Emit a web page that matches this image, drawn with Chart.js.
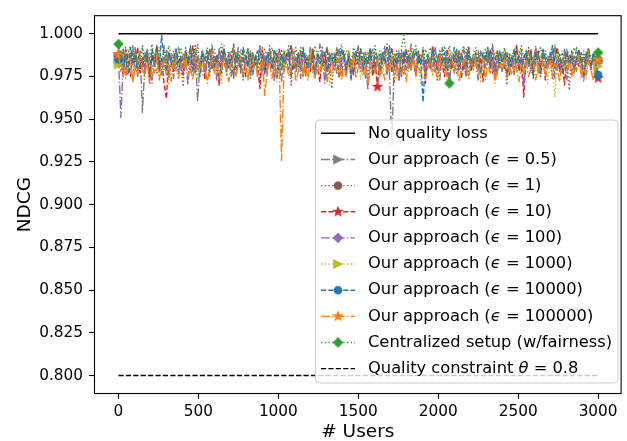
<!DOCTYPE html>
<html>
<head>
<meta charset="utf-8">
<script src="https://cdn.jsdelivr.net/npm/chart.js@4.4.0/dist/chart.umd.min.js"></script>
<style>
html, body { margin: 0; padding: 0; background: #fff; }
#wrap { width: 627px; height: 441px; }
</style>
</head>
<body>
<div id="wrap"><canvas id="ndcgChart" width="627" height="441"></canvas></div>
<script>
// number of users (x positions of the sampled points)
var users = [
    0,15,30,45,60,75,90,105,120,135,150,165,180,195,210,225,240,255,270,285,
    300,315,330,345,360,375,390,405,420,435,450,465,480,495,510,525,540,555,570,585,
    600,615,630,645,660,675,690,705,720,735,750,765,780,795,810,825,840,855,870,885,
    900,915,930,945,960,975,990,1005,1020,1035,1050,1065,1080,1095,1110,1125,1140,1155,1170,1185,
    1200,1215,1230,1245,1260,1275,1290,1305,1320,1335,1350,1365,1380,1395,1410,1425,1440,1455,1470,1485,
    1500,1515,1530,1545,1560,1575,1590,1605,1620,1635,1650,1665,1680,1695,1710,1725,1740,1755,1770,1785,
    1800,1815,1830,1845,1860,1875,1890,1905,1920,1935,1950,1965,1980,1995,2010,2025,2040,2055,2070,2085,
    2100,2115,2130,2145,2160,2175,2190,2205,2220,2235,2250,2265,2280,2295,2310,2325,2340,2355,2370,2385,
    2400,2415,2430,2445,2460,2475,2490,2505,2520,2535,2550,2565,2580,2595,2610,2625,2640,2655,2670,2685,
    2700,2715,2730,2745,2760,2775,2790,2805,2820,2835,2850,2865,2880,2895,2910,2925,2940,2955,2970,2985,
    3000];

var xTicks = [0, 500, 1000, 1500, 2000, 2500, 3000];
var yTicks = [0.800, 0.825, 0.850, 0.875, 0.900, 0.925, 0.950, 0.975, 1.000];

// reference lines
var refX = [0, 3000];
var noLoss = [1.0, 1.0];
var constraint = [0.8, 0.8];

// NDCG per epsilon
var eps05 = [
    0.986,0.979,0.991,0.976,0.988,0.983,0.993,0.978,0.985,0.990,
    0.954,0.982,0.989,0.975,0.987,0.981,0.994,0.977,0.986,0.980,
    0.991,0.974,0.988,0.983,0.979,0.992,0.985,0.976,0.989,0.982,
    0.987,0.978,0.993,0.960,0.984,0.990,0.977,0.986,0.981,0.994,
    0.979,0.988,0.973,0.985,0.991,0.980,0.987,0.975,0.989,0.983,
    0.992,0.977,0.986,0.981,0.990,0.974,0.988,0.984,0.979,0.993,
    0.982,0.987,0.976,0.991,0.985,0.978,0.989,0.983,0.972,0.990,
    0.984,0.979,0.993,0.986,0.977,0.988,0.982,0.991,0.975,0.987,
    0.981,0.990,0.978,0.985,0.994,0.980,0.987,0.973,0.989,0.984,
    0.979,0.992,0.986,0.981,0.988,0.976,0.990,0.983,0.978,0.987,
    0.993,0.982,0.985,0.974,0.989,0.984,0.979,0.991,0.986,0.977,
    0.988,0.983,0.992,0.978,0.935,0.986,0.981,0.990,0.976,0.985,
    0.989,0.980,0.994,0.984,0.977,0.987,0.982,0.991,0.975,0.988,
    0.983,0.979,0.990,0.986,0.973,0.992,0.985,0.980,0.988,0.982,
    0.977,0.991,0.984,0.989,0.979,0.986,0.993,0.978,0.985,0.981,
    0.990,0.975,0.987,0.983,0.992,0.980,0.986,0.974,0.989,0.984,
    0.978,0.991,0.985,0.981,0.988,0.976,0.993,0.983,0.987,0.979,
    0.986,0.990,0.977,0.984,0.989,0.982,0.975,0.991,0.985,0.980,
    0.988,0.983,0.994,0.978,0.986,0.981,0.990,0.973,0.987,0.984,
    0.979,0.992,0.985,0.980,0.988,0.976,0.991,0.983,0.986,0.978,
    0.983];
var eps1 = [
    0.983,0.989,0.975,0.992,0.980,0.987,0.972,0.990,0.984,0.978,
    0.993,0.981,0.986,0.971,0.989,0.983,0.977,0.991,0.985,0.979,
    0.988,0.974,0.984,0.990,0.978,0.986,0.982,0.969,0.992,0.983,
    0.977,0.988,0.982,0.994,0.979,0.985,0.980,0.989,0.975,0.991,
    0.984,0.978,0.987,0.982,0.993,0.976,0.986,0.981,0.990,0.977,
    0.985,0.991,0.973,0.987,0.983,0.979,0.989,0.982,0.986,0.971,
    0.990,0.984,0.979,0.993,0.981,0.987,0.975,0.985,0.991,0.980,
    0.983,0.988,0.970,0.986,0.992,0.979,0.984,0.989,0.976,0.985,
    0.981,0.990,0.974,0.987,0.983,0.993,0.978,0.986,0.982,0.968,
    0.989,0.984,0.979,0.991,0.985,0.976,0.988,0.982,0.987,0.980,
    0.992,0.978,0.985,0.990,0.973,0.986,0.981,0.989,0.984,0.977,
    0.987,0.982,0.994,0.979,0.985,0.971,0.990,0.983,0.988,0.976,
    0.984,0.991,0.980,0.986,0.975,0.989,0.983,0.992,0.978,0.985,
    0.980,0.988,0.983,0.972,0.990,0.985,0.979,0.987,0.993,0.981,
    0.986,0.977,0.989,0.984,0.980,0.991,0.975,0.986,0.982,0.988,
    0.974,0.990,0.985,0.979,0.987,0.983,0.993,0.976,0.984,0.989,
    0.981,0.986,0.970,0.988,0.984,0.979,0.991,0.985,0.977,0.987,
    0.983,0.992,0.978,0.986,0.981,0.989,0.975,0.984,0.990,0.980,
    0.987,0.973,0.985,0.991,0.982,0.978,0.988,0.984,0.967,0.990,
    0.985,0.980,0.989,0.976,0.987,0.982,0.992,0.979,0.986,0.981,
    0.985];
var eps10 = [
    0.988,0.981,0.978,0.991,0.985,0.975,0.989,0.983,0.992,0.977,
    0.986,0.980,0.990,0.974,0.987,0.982,0.993,0.979,0.985,0.971,
    0.962,0.989,0.984,0.978,0.991,0.982,0.987,0.976,0.990,0.984,
    0.979,0.993,0.977,0.986,0.982,0.989,0.973,0.985,0.991,0.979,
    0.987,0.983,0.970,0.990,0.984,0.978,0.988,0.981,0.994,0.976,
    0.986,0.982,0.989,0.975,0.984,0.990,0.979,0.986,0.981,0.968,
    0.992,0.976,0.985,0.989,0.980,0.987,0.973,0.991,0.983,0.978,
    0.988,0.984,0.993,0.979,0.986,0.981,0.990,0.975,0.987,0.982,
    0.978,0.991,0.985,0.980,0.972,0.988,0.983,0.992,0.977,0.986,
    0.981,0.989,0.974,0.985,0.990,0.979,0.987,0.983,0.976,0.988,
    0.984,0.991,0.978,0.986,0.982,0.989,0.975,0.984,0.969,0.987,
    0.983,0.990,0.977,0.985,0.992,0.980,0.986,0.973,0.988,0.982,
    0.991,0.979,0.987,0.984,0.976,0.990,0.983,0.988,0.971,0.986,
    0.981,0.993,0.978,0.985,0.989,0.982,0.975,0.991,0.984,0.979,
    0.987,0.983,0.990,0.974,0.986,0.981,0.992,0.978,0.985,0.989,
    0.980,0.986,0.972,0.988,0.983,0.991,0.977,0.984,0.990,0.981,
    0.985,0.979,0.989,0.976,0.987,0.982,0.993,0.978,0.986,0.963,
    0.988,0.983,0.991,0.977,0.985,0.990,0.980,0.987,0.973,0.984,
    0.989,0.981,0.986,0.992,0.978,0.985,0.970,0.988,0.983,0.990,
    0.977,0.986,0.981,0.989,0.975,0.984,0.991,0.979,0.987,0.982,
    0.974];
var eps100 = [
    0.987,0.951,0.984,0.990,0.977,0.986,0.981,0.992,0.975,0.988,
    0.983,0.978,0.991,0.985,0.971,0.989,0.982,0.986,0.976,0.993,
    0.980,0.987,0.983,0.974,0.990,0.984,0.979,0.988,0.982,0.970,
    0.991,0.985,0.977,0.987,0.983,0.990,0.976,0.984,0.989,0.981,
    0.986,0.973,0.992,0.983,0.988,0.979,0.985,0.990,0.977,0.984,
    0.989,0.982,0.975,0.986,0.991,0.978,0.984,0.988,0.983,0.993,
    0.976,0.987,0.981,0.989,0.985,0.972,0.990,0.984,0.979,0.987,
    0.982,0.991,0.977,0.986,0.983,0.989,0.974,0.988,0.984,0.980,
    0.992,0.985,0.978,0.987,0.982,0.990,0.971,0.986,0.983,0.989,
    0.979,0.985,0.991,0.976,0.987,0.982,0.988,0.973,0.986,0.990,
    0.984,0.978,0.989,0.983,0.967,0.986,0.991,0.978,0.984,0.988,
    0.983,0.993,0.976,0.987,0.981,0.989,0.985,0.972,0.990,0.984,
    0.979,0.987,0.982,0.991,0.977,0.986,0.983,0.989,0.975,0.988,
    0.984,0.980,0.992,0.985,0.978,0.987,0.982,0.990,0.971,0.986,
    0.983,0.989,0.979,0.985,0.991,0.976,0.987,0.982,0.988,0.984,
    0.973,0.990,0.985,0.981,0.988,0.983,0.992,0.977,0.986,0.980,
    0.989,0.984,0.975,0.987,0.982,0.990,0.978,0.985,0.991,0.969,
    0.986,0.981,0.988,0.983,0.993,0.977,0.985,0.989,0.980,0.987,
    0.982,0.990,0.974,0.986,0.984,0.979,0.991,0.983,0.988,0.976,
    0.987,0.982,0.989,0.985,0.972,0.990,0.984,0.980,0.988,0.983,
    0.984];
var eps1000 = [
    0.982,0.988,0.975,0.985,0.991,0.979,0.972,0.987,0.983,0.990,
    0.977,0.985,0.981,0.989,0.974,0.986,0.982,0.992,0.978,0.984,
    0.988,0.970,0.985,0.980,0.990,0.983,0.976,0.987,0.982,0.989,
    0.978,0.985,0.991,0.974,0.986,0.981,0.988,0.983,0.977,0.990,
    0.984,0.979,0.987,0.971,0.989,0.983,0.986,0.980,0.992,0.976,
    0.985,0.981,0.988,0.984,0.975,0.990,0.982,0.987,0.979,0.985,
    0.991,0.977,0.984,0.988,0.982,0.986,0.972,0.989,0.983,0.980,
    0.987,0.984,0.978,0.991,0.985,0.981,0.988,0.974,0.986,0.982,
    0.989,0.977,0.985,0.990,0.983,0.979,0.987,0.984,0.970,0.988,
    0.982,0.986,0.976,0.989,0.984,0.980,0.991,0.978,0.985,0.983,
    0.988,0.973,0.986,0.982,0.990,0.977,0.984,0.989,0.981,0.987,
    0.976,0.985,0.991,0.983,0.979,0.988,0.974,0.986,0.982,0.990,
    0.984,0.978,0.987,0.992,0.980,0.985,0.971,0.989,0.983,0.986,
    0.979,0.990,0.984,0.976,0.988,0.982,0.986,0.973,0.991,0.985,
    0.981,0.987,0.978,0.989,0.984,0.975,0.990,0.983,0.987,0.980,
    0.986,0.972,0.988,0.983,0.991,0.979,0.985,0.989,0.976,0.984,
    0.990,0.982,0.986,0.977,0.988,0.984,0.980,0.991,0.974,0.986,
    0.983,0.989,0.979,0.985,0.990,0.976,0.987,0.982,0.988,0.971,
    0.985,0.980,0.963,0.987,0.983,0.990,0.978,0.986,0.982,0.989,
    0.977,0.984,0.988,0.981,0.986,0.973,0.990,0.983,0.987,0.979,
    0.981];
var eps10000 = [
    0.985,0.990,0.980,0.987,0.976,0.992,0.983,0.988,0.978,0.986,
    0.981,0.989,0.984,0.977,0.991,0.983,0.987,0.980,0.999,0.985,
    0.978,0.989,0.982,0.986,0.991,0.977,0.985,0.980,0.988,0.983,
    0.993,0.979,0.986,0.982,0.975,0.989,0.984,0.990,0.978,0.986,
    0.981,0.988,0.983,0.977,0.991,0.985,0.980,0.987,0.974,0.989,
    0.984,0.979,0.992,0.986,0.981,0.988,0.976,0.985,0.990,0.982,
    0.987,0.978,0.989,0.984,0.980,0.991,0.985,0.977,0.988,0.983,
    0.986,0.990,0.975,0.985,0.981,0.988,0.979,0.992,0.984,0.980,
    0.987,0.983,0.975,0.989,0.985,0.981,0.990,0.978,0.986,0.984,
    0.988,0.977,0.983,0.991,0.986,0.980,0.987,0.974,0.989,0.985,
    0.982,0.990,0.978,0.986,0.983,0.992,0.979,0.987,0.984,0.976,
    0.989,0.985,0.981,0.993,0.977,0.986,0.982,0.988,0.975,0.990,
    0.983,0.987,0.979,0.985,0.990,0.982,0.986,0.960,0.984,0.988,
    0.980,0.991,0.985,0.978,0.987,0.983,0.989,0.976,0.986,0.981,
    0.992,0.984,0.979,0.988,0.983,0.975,0.990,0.985,0.981,0.987,
    0.983,0.978,0.989,0.985,0.992,0.980,0.986,0.982,0.977,0.990,
    0.984,0.988,0.976,0.986,0.981,0.991,0.983,0.987,0.979,0.985,
    0.990,0.982,0.987,0.974,0.989,0.984,0.978,0.991,0.985,0.981,
    0.986,0.993,0.980,0.985,0.988,0.977,0.984,0.990,0.982,0.987,
    0.979,0.985,0.991,0.983,0.976,0.988,0.984,0.981,0.989,0.983,
    0.976];
var eps100000 = [
    0.988,0.978,0.983,0.974,0.980,0.985,0.972,0.981,0.976,0.986,
    0.979,0.975,0.984,0.971,0.982,0.977,0.987,0.973,0.980,0.984,
    0.976,0.982,0.972,0.985,0.979,0.974,0.983,0.978,0.987,0.975,
    0.981,0.973,0.986,0.979,0.984,0.976,0.982,0.971,0.980,0.985,
    0.977,0.983,0.974,0.980,0.986,0.978,0.972,0.984,0.979,0.975,
    0.982,0.987,0.976,0.981,0.973,0.985,0.979,0.983,0.975,0.980,
    0.986,0.964,0.978,0.984,0.974,0.981,0.977,0.985,0.926,0.979,
    0.983,0.975,0.980,0.986,0.972,0.978,0.984,0.976,0.982,0.973,
    0.987,0.979,0.974,0.983,0.977,0.985,0.981,0.972,0.980,0.976,
    0.984,0.978,0.986,0.973,0.981,0.975,0.983,0.979,0.988,0.974,
    0.980,0.985,0.976,0.982,0.971,0.979,0.984,0.977,0.986,0.975,
    0.981,0.973,0.983,0.978,0.987,0.974,0.980,0.985,0.976,0.982,
    0.972,0.984,0.979,0.986,0.975,0.981,0.977,0.983,0.973,0.980,
    0.985,0.976,0.982,0.974,0.988,0.979,0.983,0.975,0.981,0.986,
    0.977,0.983,0.972,0.980,0.985,0.978,0.974,0.984,0.979,0.987,
    0.975,0.981,0.986,0.973,0.982,0.977,0.984,0.971,0.980,0.983,
    0.978,0.986,0.974,0.981,0.976,0.985,0.979,0.972,0.983,0.977,
    0.984,0.975,0.980,0.987,0.973,0.982,0.978,0.985,0.976,0.981,
    0.986,0.974,0.983,0.979,0.972,0.984,0.980,0.977,0.985,0.975,
    0.982,0.978,0.987,0.974,0.981,0.976,0.984,0.979,0.973,0.983,
    0.985];
var centralized = [
    0.994,0.986,0.991,0.983,0.989,0.993,0.985,0.990,0.982,0.988,
    0.992,0.984,0.989,0.986,0.994,0.981,0.990,0.987,0.983,0.991,
    0.985,0.993,0.988,0.982,0.990,0.986,0.992,0.984,0.989,0.983,
    0.991,0.987,0.993,0.985,0.981,0.990,0.986,0.992,0.983,0.988,
    0.991,0.984,0.989,0.994,0.986,0.982,0.990,0.987,0.993,0.985,
    0.988,0.983,0.991,0.986,0.992,0.984,0.989,0.981,0.990,0.987,
    0.985,0.991,0.987,0.983,0.992,0.986,0.989,0.984,0.980,0.990,
    0.988,0.993,0.985,0.990,0.982,0.987,0.992,0.986,0.989,0.983,
    0.991,0.985,0.993,0.987,0.982,0.990,0.986,0.992,0.984,0.989,
    0.983,0.991,0.987,0.994,0.985,0.990,0.986,0.982,0.992,0.988,
    0.986,0.992,0.984,0.989,0.983,0.991,0.987,0.993,0.985,0.990,
    0.982,0.988,0.992,0.986,0.990,0.984,0.989,0.983,0.991,0.999,
    0.987,0.983,0.990,0.986,0.993,0.984,0.988,0.982,0.991,0.986,
    0.992,0.985,0.989,0.983,0.990,0.987,0.993,0.984,0.971,0.989,
    0.986,0.991,0.983,0.988,0.993,0.985,0.990,0.982,0.987,0.992,
    0.984,0.989,0.986,0.991,0.983,0.988,0.994,0.985,0.990,0.982,
    0.987,0.992,0.984,0.989,0.985,0.991,0.983,0.988,0.993,0.986,
    0.990,0.984,0.988,0.982,0.991,0.986,0.992,0.985,0.989,0.983,
    0.988,0.993,0.986,0.990,0.984,0.989,0.982,0.991,0.987,0.985,
    0.992,0.986,0.989,0.983,0.990,0.985,0.991,0.987,0.984,0.990,
    0.989];

var epsLabels = ['0.5', '1', '10', '100', '1000', '10000', '100000'];

//matplotlib line styles (scaled with line width 1.4)
var LW = 1.4;
var DASH = [5.2, 2.2];
var DOT = [1.4, 2.3];
var DASHDOT = [8.9, 2.2, 1.4, 2.2];

/**
 * small canvas marker like matplotlib's
 */
function makeMarker(shape, color) {
    var c = document.createElement('canvas');
    c.width = 14;
    c.height = 14;
    var g = c.getContext('2d');
    g.translate(7, 7);
    g.fillStyle = color;
    g.strokeStyle = color;
    g.lineWidth = 1.1;
    g.beginPath();
    if (shape === 'circle') {
        g.arc(0, 0, 3.8, 0, Math.PI * 2);
    } else if (shape === 'tri') {
        g.moveTo(4.2, 0); g.lineTo(-4.2, -4.2); g.lineTo(-4.2, 4.2); g.closePath();
    } else if (shape === 'diamond') {
        g.moveTo(0, -4.5); g.lineTo(4.5, 0); g.lineTo(0, 4.5); g.lineTo(-4.5, 0); g.closePath();
    } else if (shape === 'star') {
        for (var k = 0; k < 10; k++) {
            var r = k % 2 === 0 ? 4.6 : 1.8;
            var a = -Math.PI / 2 + k * Math.PI / 5;
            g.lineTo(r * Math.cos(a), r * Math.sin(a));
        }
        g.closePath();
    }
    g.fill();
    g.stroke();
    return c;
}

function pts(xs, ys) {
    return xs.map(function (x, i) { return {x: x, y: ys[i]}; });
}

// line setups, in legend order
var series = [
    {vals: eps05, color: '#7f7f7f', dash: DASHDOT, marker: 'tri', marks: [0, 200], order: 7},
    {vals: eps1, color: '#8c564b', dash: DOT, marker: 'circle', marks: [0, 200], order: 6},
    {vals: eps10, color: '#d62728', dash: DASH, marker: 'star', marks: [0, 108, 200], order: 5},
    {vals: eps100, color: '#9467bd', dash: DASHDOT, marker: 'diamond', marks: [0, 200], order: 4},
    {vals: eps1000, color: '#bcbd22', dash: DOT, marker: 'tri', marks: [0, 200], order: 3},
    {vals: eps10000, color: '#1f77b4', dash: DASH, marker: 'circle', marks: [0, 200], order: 2},
    {vals: eps100000, color: '#ff7f0e', dash: DASHDOT, marker: 'star', marks: [0, 200], order: 1},
    {vals: centralized, color: '#2ca02c', dash: DOT, marker: 'diamond', marks: [0, 138, 200], order: 0}
];
series.forEach(function (s) { s.img = makeMarker(s.marker, s.color); });

var datasets = [{
    data: pts(refX, noLoss), borderColor: '#000', borderWidth: 1.6, pointRadius: 0, order: 8
}];
series.forEach(function (s) {
    datasets.push({
        data: pts(users, s.vals),
        borderColor: s.color,
        borderWidth: LW,
        borderDash: s.dash,
        borderJoinStyle: 'round',
        pointStyle: s.img,
        pointRadius: function (ctx) { return s.marks.indexOf(ctx.dataIndex) >= 0 ? 4 : 0; },
        order: s.order
    });
});
datasets.push({
    data: pts(refX, constraint), borderColor: '#000', borderWidth: LW, borderDash: DASH, pointRadius: 0, order: 9
});

// legend rows
var legendRows = [{text: ['No quality loss'], color: '#000', dash: [], img: null, lw: 1.6}];
series.forEach(function (s, i) {
    if (i < epsLabels.length) {
        legendRows.push({text: ['Our approach (', 'ϵ', ' = ' + epsLabels[i] + ')'], color: s.color, dash: s.dash, img: s.img});
    } else {
        legendRows.push({text: ['Centralized setup (w/fairness)'], color: s.color, dash: s.dash, img: s.img});
    }
});
legendRows.push({text: ['Quality constraint ', 'θ', ' = 0.8'], color: '#000', dash: DASH, img: null});

var framePlugin = {
    id: 'frameAndLegend',
    afterDatasetsDraw: function (chart) {
        var ctx = chart.ctx, a = chart.chartArea;
        ctx.save();
        //axes box
        ctx.strokeStyle = '#000';
        ctx.lineWidth = 1.1;
        ctx.strokeRect(a.left + 0.5, a.top + 0.5, a.right - a.left - 1, a.bottom - a.top - 1);

        //legend box
        var bx = 315.5, by = 120, bw = 302.5, bh = 263;
        ctx.beginPath();
        ctx.roundRect(bx, by, bw, bh, 4);
        ctx.fillStyle = 'rgba(255,255,255,0.8)';
        ctx.fill();
        ctx.strokeStyle = '#cccccc';
        ctx.lineWidth = 1;
        ctx.stroke();

        ctx.textBaseline = 'middle';
        ctx.textAlign = 'left';
        legendRows.forEach(function (row, i) {
            var y = 133.3 + i * 26.15;
            ctx.beginPath();
            ctx.setLineDash(row.dash);
            ctx.lineWidth = row.lw || LW;
            ctx.strokeStyle = row.color;
            ctx.moveTo(321, y);
            ctx.lineTo(355, y);
            ctx.stroke();
            ctx.setLineDash([]);
            if (row.img) {
                ctx.drawImage(row.img, 338 - 7, y - 7);
            }
            var tx = 368;
            ctx.fillStyle = '#000';
            row.text.forEach(function (part, k) {
                ctx.font = (k === 1 ? 'italic ' : '') + '16.3px "DejaVu Sans"';
                ctx.fillText(part, tx, y);
                tx += ctx.measureText(part).width;
            });
        });
        ctx.restore();
    }
};

Chart.defaults.font.family = '"DejaVu Sans"';
Chart.defaults.color = '#000';

var chart = new Chart(document.getElementById('ndcgChart').getContext('2d'), {
    type: 'line',
    data: {datasets: datasets},
    options: {
        responsive: false,
        animation: false,
        events: [],
        layout: {padding: {top: 13, right: 0, left: 0, bottom: 0}},
        plugins: {legend: {display: false}, tooltip: {enabled: false}},
        scales: {
            x: {
                type: 'linear',
                min: -153,
                max: 3147,
                afterBuildTicks: function (scale) {
                    scale.ticks = xTicks.map(function (v) { return {value: v}; });
                },
                afterFit: function (scale) { scale.height = 47; },
                grid: {drawOnChartArea: false, drawTicks: true, tickLength: 5, tickColor: '#000', tickWidth: 1.1},
                border: {display: false},
                ticks: {font: {size: 15.3}, padding: 4, maxRotation: 0, autoSkip: false,
                    callback: function (v) { return String(v); }},
                title: {display: true, text: '# Users', font: {size: 18.5, lineHeight: 1}, padding: {top: 0, bottom: 0}}
            },
            y: {
                min: 0.7892,
                max: 1.0109,
                afterBuildTicks: function (scale) {
                    scale.ticks = yTicks.map(function (v) { return {value: v}; });
                },
                afterFit: function (scale) { scale.width = 94; },
                grid: {drawOnChartArea: false, drawTicks: true, tickLength: 5, tickColor: '#000', tickWidth: 1.1},
                border: {display: false},
                ticks: {font: {size: 15.3}, padding: 6, autoSkip: false,
                    callback: function (v) { return v.toFixed(3); }},
                title: {display: true, text: 'NDCG', font: {size: 18.5, lineHeight: 1}, padding: {top: 16, bottom: 0}}
            }
        }
    },
    plugins: [framePlugin]
});
</script>
</body>
</html>
